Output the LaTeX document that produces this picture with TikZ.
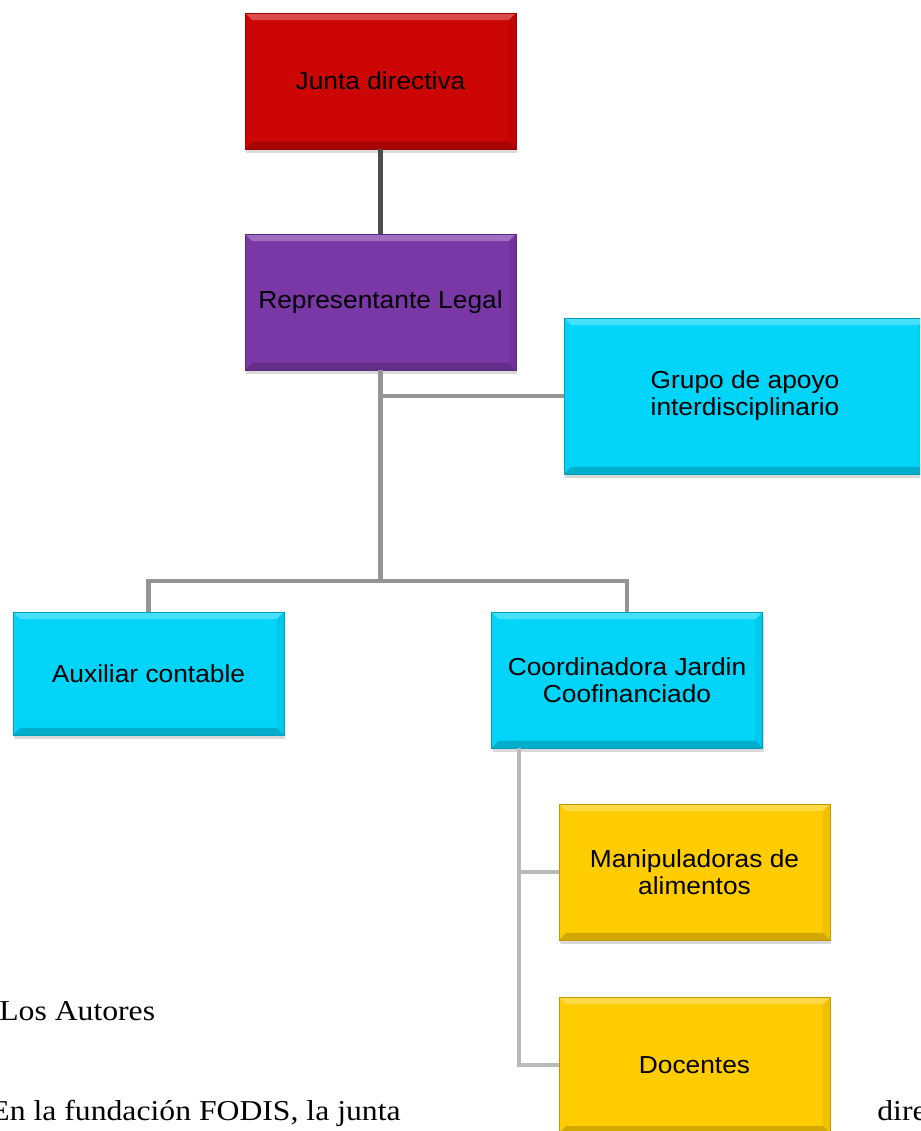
\documentclass[tikz,border=0pt]{standalone}
\usepackage{fontspec}
\setmainfont{Liberation Serif}[FakeStretch=1.1]
\newfontfamily\boxfont{Liberation Sans}[FakeStretch=1.07]
\usetikzlibrary{calc,shadows}

\definecolor{juntared}{RGB}{204,6,5}
\definecolor{legalviolet}{RGB}{122,55,166}
\definecolor{apoyocyan}{RGB}{0,213,249}
\definecolor{jardinyellow}{RGB}{255,204,0}

\tikzset{
	orgbox/.style={draw=#1!75!black, line width=0.4pt, fill=#1, inner sep=0pt, align=center,
		minimum width=5.42cm, minimum height=2.72cm,
		font=\boxfont\fontsize{14}{15.3}\selectfont,
		drop shadow={shadow xshift=0.8pt, shadow yshift=-2.5pt, opacity=0.3},
		path picture={
			\fill[white, opacity=0.28] (path picture bounding box.north west) -- (path picture bounding box.north east)
				-- ([xshift=-0.14cm, yshift=-0.14cm]path picture bounding box.north east) -- ([xshift=0.14cm, yshift=-0.14cm]path picture bounding box.north west) -- cycle;
			\fill[black, opacity=0.18] (path picture bounding box.south west) -- (path picture bounding box.south east)
				-- ([xshift=-0.14cm, yshift=0.14cm]path picture bounding box.south east) -- ([xshift=0.14cm, yshift=0.14cm]path picture bounding box.south west) -- cycle;
			\fill[black, opacity=0.06] (path picture bounding box.south east) -- (path picture bounding box.north east)
				-- ([xshift=-0.14cm, yshift=-0.14cm]path picture bounding box.north east) -- ([xshift=-0.14cm, yshift=0.14cm]path picture bounding box.south east) -- cycle;
		}},
	topline/.style={line width=2.4pt, color=black!70},
	mainline/.style={line width=2.4pt, color=black!42},
	jardinline/.style={line width=2.4pt, color=black!27},
	bodytext/.style={inner sep=0pt, font=\fontsize{16.4}{19}\selectfont}
}

\begin{document}
\begin{tikzpicture}[x=0.02cm, y=-0.02cm]
			%%%%% START %%%%%
			
			\useasboundingbox (0, 0) rectangle (920, 1131);
			\clip (0, 0) rectangle (920, 1131);
			
			\node[orgbox=juntared] (junta) at (380.5, 81) {Junta directiva};
			\node[orgbox=legalviolet] (legal) at (380.5, 302) {Representante Legal};
			\node[orgbox=apoyocyan, minimum width=7.24cm, minimum height=3.12cm] (apoyo) at (745, 396) {Grupo de apoyo\\interdisciplinario};
			\node[orgbox=apoyocyan, minimum height=2.46cm] (contable) at (148.5, 673.5) {Auxiliar contable};
			\node[orgbox=apoyocyan] (coord) at (627, 680) {Coordinadora Jardin\\Coofinanciado};
			\node[orgbox=jardinyellow] (manip) at (694.5, 872) {Manipuladoras de\\alimentos};
			\node[orgbox=jardinyellow] (docentes) at (694.5, 1065) {Docentes};
			
			\coordinate (hub) at (380.5, 581);
			
			\draw[topline] (junta.south) -- (legal.north);
			\draw[mainline] (legal.south) -- (hub);
			\draw[mainline] (legal.south |- apoyo.west) -- (apoyo.west);
			\draw[mainline] (contable.north) |- (hub) -| (coord.north);
			
			\draw[jardinline] ([xshift=-2.16cm]coord.south) |- (manip.west);
			\draw[jardinline] ([xshift=-2.16cm]coord.south) |- (docentes.west);
			
			\node[bodytext, anchor=base west] (fuente) at (-1, 1020) {Los Autores};
			\node[bodytext, anchor=base east] (parrafo) at (401, 1120) {En la fundación FODIS, la junta};
			\node[bodytext, anchor=base west] (resto) at (877, 1120) {dire};
			
			%%%%% END %%%%%
		\end{tikzpicture}
\end{document}
